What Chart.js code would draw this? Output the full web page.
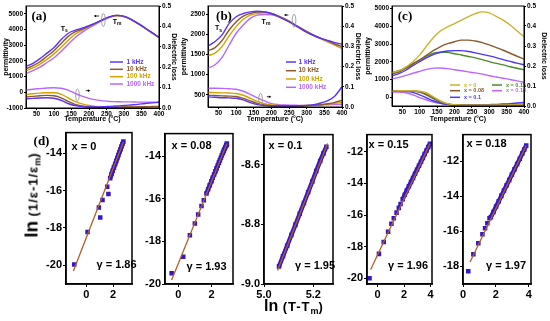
<!DOCTYPE html>
<html>
<head>
<meta charset="utf-8">
<script src="https://cdn.jsdelivr.net/npm/chart.js@4.4.1/dist/chart.umd.min.js"></script>
<style>
  body { margin: 0; background: #fff; }
  #fig { position: relative; width: 550px; height: 321px; overflow: hidden;
         font-family: 'Liberation Sans', Arial, sans-serif; font-weight: bold; color: #000; }
  canvas { position: absolute; }
  .lbl { position: absolute; white-space: nowrap; line-height: 1; transform: translateY(-50%); }
  .tag { font-family: 'Liberation Serif', 'Times New Roman', serif; font-size: 13px; transform: translate(-50%, -50%); }
  .note { font-size: 11px; }
  .ln { font-size: 19px; }
  .par { font-size: 13px; letter-spacing: 1px; }
  .par sub { font-size: 9px; vertical-align: -3px; letter-spacing: 0; }
  #ylab { left: 32px; top: 195px; transform: translate(-50%, -50%) rotate(-90deg); }
  #xlab { left: 294px; top: 307px; transform: translate(-50%, -50%); }
  #xlab .ln { font-size: 16px; }
</style>
</head>
<body>
<div id="fig">
  <canvas id="chartA"></canvas>
  <canvas id="chartB"></canvas>
  <canvas id="chartC"></canvas>
  <canvas id="chartD1"></canvas>
  <canvas id="chartD2"></canvas>
  <canvas id="chartD3"></canvas>
  <canvas id="chartD4"></canvas>
  <canvas id="chartD5"></canvas>

  <div class="lbl tag" style="left:39px;top:14.5px">(a)</div>
  <div class="lbl tag" style="left:224px;top:14.5px">(b)</div>
  <div class="lbl tag" style="left:405px;top:14.5px">(c)</div>
  <div class="lbl tag" style="left:41.5px;top:139.5px">(d)</div>

  <div class="lbl note" style="left:71.5px;top:145.5px">x = 0</div>
  <div class="lbl note" style="left:171.5px;top:144.5px">x = 0.08</div>
  <div class="lbl note" style="left:268.5px;top:144.5px">x = 0.1</div>
  <div class="lbl note" style="left:368.5px;top:143.5px">x = 0.15</div>
  <div class="lbl note" style="left:466.5px;top:142.5px">x = 0.18</div>

  <div class="lbl note" style="left:96.5px;top:264px">γ = 1.86</div>
  <div class="lbl note" style="left:186.5px;top:265.5px">γ = 1.93</div>
  <div class="lbl note" style="left:295px;top:265px">γ = 1.95</div>
  <div class="lbl note" style="left:388px;top:265px">γ = 1.96</div>
  <div class="lbl note" style="left:486px;top:264.5px">γ = 1.97</div>

  <div class="lbl" id="ylab"><span class="ln">ln</span> <span class="par">(1/ε-1/ε<sub>m</sub>)</span></div>
  <div class="lbl" id="xlab"><span class="ln">ln</span> <span class="par">(T-T<sub>m</sub>)</span></div>
</div>

<script>
// ---- data ----
const temps = [20, 40, 60, 80, 100, 120, 140, 160, 180, 200, 220, 240, 260, 280, 300, 320, 340, 360, 380, 400];
const freqLabels = ['1 kHz', '10 kHz', '100 kHz', '1000 kHz'];
const compLabels = ['x = 0', 'x = 0.08', 'x = 0.1', 'x = 0.15', 'x = 0.18'];

const tempTicks = [50, 100, 150, 200, 250, 300, 350, 400];
const lossTicks = [0, 0.1, 0.2, 0.3, 0.4, 0.5];
const permTicksA = [-1000, 0, 1000, 2000, 3000, 4000, 5000];
const permTicksB = [500, 1000, 1500, 2000, 2500];
const permTicksC = [0, 1000, 2000, 3000, 4000, 5000];

// (a) x = 0, four frequencies
const permA1k   = [1650, 1850, 2150, 2500, 2850, 3350, 3750, 3950, 4080, 4250, 4430, 4640, 4820, 4900, 4840, 4650, 4390, 4100, 3800, 3500];
const permA10k  = [1500, 1700, 1950, 2300, 2650, 3100, 3550, 3850, 4020, 4220, 4420, 4630, 4810, 4900, 4840, 4650, 4390, 4100, 3800, 3500];
const permA100k = [1380, 1550, 1800, 2100, 2450, 2850, 3300, 3700, 3950, 4180, 4400, 4620, 4800, 4890, 4830, 4640, 4380, 4090, 3790, 3490];
const permA1M   = [1200, 1380, 1600, 1900, 2200, 2600, 3050, 3480, 3820, 4100, 4350, 4600, 4790, 4880, 4820, 4630, 4370, 4080, 3780, 3480];
const lossA1k   = [0.045, 0.047, 0.049, 0.050, 0.048, 0.038, 0.022, 0.012, 0.007, 0.005, 0.005, 0.006, 0.008, 0.010, 0.012, 0.015, 0.018, 0.022, 0.025, 0.028];
const lossA10k  = [0.054, 0.057, 0.060, 0.062, 0.060, 0.050, 0.033, 0.018, 0.010, 0.006, 0.004, 0.004, 0.004, 0.004, 0.005, 0.005, 0.006, 0.006, 0.007, 0.008];
const lossA100k = [0.066, 0.070, 0.073, 0.075, 0.075, 0.068, 0.050, 0.032, 0.020, 0.012, 0.008, 0.006, 0.005, 0.005, 0.005, 0.005, 0.005, 0.005, 0.006, 0.006];
const lossA1M   = [0.088, 0.092, 0.095, 0.098, 0.099, 0.097, 0.088, 0.072, 0.058, 0.047, 0.040, 0.035, 0.032, 0.031, 0.030, 0.030, 0.029, 0.029, 0.028, 0.028];

// (b) x = 0.08, four frequencies
const permB1k   = [1710, 1820, 1985, 2270, 2435, 2515, 2555, 2570, 2555, 2515, 2435, 2350, 2255, 2150, 2050, 1970, 1900, 1845, 1795, 1755];
const permB10k  = [1590, 1670, 1845, 2105, 2310, 2450, 2515, 2550, 2550, 2515, 2450, 2370, 2270, 2165, 2065, 1975, 1900, 1835, 1760, 1700];
const permB100k = [1470, 1535, 1700, 1960, 2190, 2370, 2475, 2515, 2530, 2510, 2450, 2370, 2270, 2165, 2065, 1975, 1895, 1815, 1735, 1655];
const permB1M   = [1160, 1245, 1430, 1735, 2025, 2230, 2395, 2475, 2490, 2485, 2435, 2360, 2270, 2170, 2065, 1975, 1890, 1810, 1730, 1650];
const lossB1k   = [0.050, 0.048, 0.046, 0.045, 0.043, 0.035, 0.022, 0.012, 0.007, 0.005, 0.005, 0.005, 0.005, 0.006, 0.008, 0.012, 0.020, 0.032, 0.055, 0.100];
const lossB10k  = [0.058, 0.057, 0.055, 0.054, 0.052, 0.043, 0.030, 0.018, 0.010, 0.006, 0.005, 0.005, 0.005, 0.005, 0.006, 0.008, 0.011, 0.016, 0.023, 0.033];
const lossB100k = [0.072, 0.071, 0.070, 0.069, 0.067, 0.058, 0.043, 0.028, 0.017, 0.010, 0.008, 0.007, 0.007, 0.007, 0.008, 0.009, 0.011, 0.014, 0.018, 0.022];
const lossB1M   = [0.093, 0.093, 0.092, 0.090, 0.088, 0.078, 0.063, 0.045, 0.030, 0.017, 0.012, 0.010, 0.009, 0.008, 0.008, 0.009, 0.010, 0.011, 0.012, 0.013];

// (c) 1 kHz, five compositions
const permC0  = [1400, 1480, 1700, 2000, 2390, 2900, 3380, 3750, 3970, 4160, 4350, 4550, 4720, 4820, 4760, 4560, 4350, 4080, 3750, 3410];
const permC08 = [1320, 1420, 1620, 1870, 2110, 2380, 2640, 2860, 3020, 3130, 3220, 3220, 3170, 3080, 2950, 2800, 2650, 2480, 2310, 2145];
const permC10 = [1210, 1330, 1520, 1780, 2010, 2230, 2420, 2540, 2610, 2630, 2630, 2580, 2500, 2420, 2330, 2230, 2120, 2020, 1920, 1830];
const permC15 = [1400, 1490, 1680, 1900, 2110, 2320, 2480, 2540, 2530, 2450, 2380, 2300, 2220, 2120, 2010, 1910, 1820, 1720, 1630, 1550];
const permC18 = [1030, 1120, 1230, 1350, 1460, 1570, 1640, 1650, 1610, 1550, 1490, 1430, 1370, 1300, 1210, 1140, 1070, 1000, 920, 840];
const lossC0  = [0.075, 0.076, 0.076, 0.076, 0.074, 0.065, 0.045, 0.025, 0.012, 0.006, 0.004, 0.004, 0.004, 0.004, 0.004, 0.004, 0.004, 0.005, 0.005, 0.005];
const lossC08 = [0.074, 0.075, 0.075, 0.074, 0.070, 0.058, 0.040, 0.022, 0.010, 0.005, 0.004, 0.004, 0.004, 0.004, 0.004, 0.005, 0.005, 0.005, 0.006, 0.006];
const lossC10 = [0.073, 0.074, 0.073, 0.068, 0.056, 0.040, 0.025, 0.014, 0.008, 0.005, 0.004, 0.004, 0.005, 0.006, 0.007, 0.008, 0.010, 0.012, 0.015, 0.018];
const lossC15 = [0.075, 0.076, 0.076, 0.075, 0.070, 0.055, 0.035, 0.018, 0.009, 0.005, 0.004, 0.004, 0.004, 0.004, 0.004, 0.004, 0.004, 0.004, 0.004, 0.004];
const lossC18 = [0.070, 0.070, 0.066, 0.056, 0.042, 0.030, 0.020, 0.013, 0.009, 0.007, 0.006, 0.006, 0.006, 0.006, 0.007, 0.007, 0.008, 0.008, 0.009, 0.010];

// (d) ln(1/e - 1/em) against ln(T - Tm)
const d1SparseT = [-0.89, 0.10, 1.04, 0.94, 1.21, 1.65, 1.56];
const d1SparseE = [-19.96, -18.22, -17.44, -16.91, -16.50, -16.18, -15.80];
const d1DenseT = [1.78, 1.88, 1.97, 2.06, 2.15, 2.23, 2.31, 2.39, 2.47, 2.55, 2.62, 2.69, 2.76];
const d1DenseE = [-15.34, -15.12, -14.94, -14.76, -14.58, -14.42, -14.26, -14.10, -13.94, -13.79, -13.64, -13.51, -13.38];
const d1FitT = [-0.95, 2.76];
const d1FitE = [-20.30, -13.40];

const d2SparseT = [-0.40, 0.30, 0.70, 1.00, 1.20, 1.40, 1.54];
const d2SparseE = [-19.50, -18.72, -17.71, -17.16, -16.74, -16.34, -16.07];
const d2DenseT = [1.70, 1.80, 1.90, 2.00, 2.08, 2.16, 2.24, 2.31, 2.38, 2.45, 2.51, 2.57, 2.63, 2.69, 2.74, 2.79, 2.84, 2.89, 2.93];
const d2DenseE = [-15.76, -15.56, -15.37, -15.18, -15.02, -14.87, -14.72, -14.58, -14.45, -14.31, -14.20, -14.08, -13.97, -13.86, -13.76, -13.67, -13.58, -13.49, -13.42];
const d2FitT = [-0.40, 2.93];
const d2FitE = [-19.81, -13.42];

const d3SparseT = [];
const d3SparseE = [];
const d3DenseT = [5.061, 5.077, 5.094, 5.111, 5.128, 5.145, 5.162, 5.179, 5.196, 5.212, 5.228, 5.241, 5.253];
const d3DenseE = [-8.941, -8.907, -8.872, -8.836, -8.801, -8.765, -8.729, -8.693, -8.657, -8.622, -8.588, -8.563, -8.541];
const d3FitT = [5.055, 5.258];
const d3FitE = [-8.955, -8.530];

const d4SparseT = [-0.61, 0.10, 0.46, 0.79, 1.04, 1.22, 1.43, 1.60, 1.73];
const d4SparseE = [-19.99, -18.45, -17.70, -17.05, -16.55, -16.20, -15.85, -15.55, -15.30];
const d4DenseT = [1.89, 2.05, 2.20, 2.36, 2.52, 2.67, 2.82, 2.97, 3.12, 3.27, 3.41, 3.55, 3.69, 3.82, 3.95];
const d4DenseE = [-15.00, -14.72, -14.46, -14.19, -13.92, -13.66, -13.40, -13.15, -12.90, -12.64, -12.40, -12.16, -11.93, -11.71, -11.50];
const d4FitT = [-0.53, 3.95];
const d4FitE = [-19.45, -11.50];

const d5SparseT = [0.32, 0.63, 0.93, 1.18, 1.34, 1.48, 1.61];
const d5SparseE = [-18.28, -17.30, -16.68, -16.17, -15.83, -15.54, -15.26];
const d5DenseT = [1.69, 1.85, 2.01, 2.17, 2.33, 2.49, 2.65, 2.81, 2.97, 3.13, 3.29, 3.45, 3.60, 3.72, 3.84];
const d5DenseE = [-15.20, -14.90, -14.59, -14.29, -13.98, -13.68, -13.37, -13.07, -12.76, -12.46, -12.16, -11.86, -11.57, -11.34, -11.11];
const d5FitT = [0.43, 3.84];
const d5FitE = [-17.75, -11.11];

// ---- styling ----
const freqColors = ['#5a32ff', '#8c5a2c', '#d4a200', '#b866ff'];
const compColors = ['#c8b42a', '#8c5a2c', '#4a36ff', '#4d8a2c', '#b866ff'];
const dotColor = '#3418c4';
const fitColor = '#b0602a';
const sans = "'Liberation Sans', Arial, sans-serif";

Chart.defaults.font.family = sans;
Chart.defaults.font.weight = 'bold';
Chart.defaults.font.size = 7;
Chart.defaults.color = '#000';

// plot-area rectangles in page pixels, plus room for axes
const boxes = {
    a:  { l: 26,  t: 6,   r: 159, b: 108, leftW: 26, rightW: 21, padTop: 6, bottomH: 15 },
    b:  { l: 208, t: 6,   r: 342, b: 107, leftW: 30, rightW: 22, padTop: 6, bottomH: 16 },
    c:  { l: 392, t: 6,   r: 524, b: 106, leftW: 30, rightW: 26, padTop: 6, bottomH: 17 },
    d1: { l: 66,  t: 132, r: 132, b: 284, leftW: 26, rightW: 5,  padTop: 7, bottomH: 18 },
    d2: { l: 165, t: 133, r: 233, b: 284, leftW: 26, rightW: 5,  padTop: 7, bottomH: 18 },
    d3: { l: 264, t: 134, r: 333, b: 284, leftW: 31, rightW: 5,  padTop: 7, bottomH: 18 },
    d4: { l: 367, t: 134, r: 432, b: 284, leftW: 26, rightW: 5,  padTop: 7, bottomH: 18 },
    d5: { l: 463, t: 134, r: 531, b: 284, leftW: 26, rightW: 6,  padTop: 7, bottomH: 18 }
};

// ---- small plugins ----
const framePlugin = {
    id: 'frame',
    afterDraw(chart, args, opts) {
        const { ctx, chartArea: a } = chart;
        ctx.save();
        ctx.strokeStyle = '#000';
        ctx.lineWidth = opts.width || 1;
        ctx.strokeRect(a.left, a.top, a.right - a.left, a.bottom - a.top);
        ctx.restore();
    }
};

// legend drawn inside the plot, text coloured like its line
const keyPlugin = {
    id: 'keyBox',
    afterDatasetsDraw(chart, args, opts) {
        if (!opts.rows) return;
        const { ctx, chartArea: a } = chart;
        ctx.save();
        ctx.font = 'bold ' + opts.size + 'px ' + sans;
        ctx.textBaseline = 'middle';
        ctx.lineWidth = 1.5;
        opts.rows.forEach(row => {
            const ds = chart.data.datasets[row.index];
            const x = a.left + row.dx, y = a.top + row.dy;
            ctx.strokeStyle = ds.borderColor;
            ctx.beginPath();
            ctx.moveTo(x, y);
            ctx.lineTo(x + opts.lineLen, y);
            ctx.stroke();
            ctx.fillStyle = ds.borderColor;
            ctx.fillText(ds.label, x + opts.lineLen + opts.gap, y);
        });
        ctx.restore();
    }
};

// T_s / T_m labels, little arrows and ellipses, placed in data coordinates
const marksPlugin = {
    id: 'marks',
    afterDatasetsDraw(chart, args, opts) {
        if (!opts.items) return;
        const { ctx } = chart;
        const xs = chart.scales.x;
        ctx.save();
        opts.items.forEach(m => {
            const ys = chart.scales[m.axis];
            const px = xs.getPixelForValue(m.x), py = ys.getPixelForValue(m.y);
            if (m.kind === 'text') {
                ctx.fillStyle = '#000';
                ctx.textBaseline = 'middle';
                ctx.font = 'bold 7px ' + sans;
                ctx.fillText(m.main, px, py);
                const w = ctx.measureText(m.main).width;
                ctx.font = 'bold 5px ' + sans;
                ctx.fillText(m.sub, px + w, py + 2);
            } else if (m.kind === 'arrow') {
                const ex = px + m.dir * m.len;
                ctx.strokeStyle = '#000';
                ctx.fillStyle = '#000';
                ctx.lineWidth = 0.8;
                ctx.beginPath();
                ctx.moveTo(px, py);
                ctx.lineTo(ex, py);
                ctx.stroke();
                ctx.beginPath();
                ctx.moveTo(ex + m.dir * 1.5, py);
                ctx.lineTo(ex - m.dir * 1, py - 1.3);
                ctx.lineTo(ex - m.dir * 1, py + 1.3);
                ctx.closePath();
                ctx.fill();
            } else if (m.kind === 'ellipse') {
                ctx.strokeStyle = '#8a8a8a';
                ctx.lineWidth = 0.8;
                ctx.beginPath();
                ctx.ellipse(px, py, m.rx, m.ry, 0, 0, Math.PI * 2);
                ctx.stroke();
            }
        });
        ctx.restore();
    }
};

// ---- helpers ----
function placeCanvas(id, box) {
    const c = document.getElementById(id);
    c.width = box.leftW + (box.r - box.l) + box.rightW;
    c.height = box.padTop + (box.b - box.t) + box.bottomH;
    c.style.left = (box.l - box.leftW) + 'px';
    c.style.top = (box.t - box.padTop) + 'px';
    return c;
}

function useTicks(values) {
    return function(scale) {
        scale.ticks = values.map(v => ({ value: v }));
    };
}

function fixSize(size) {
    return function(scale) {
        if (scale.isHorizontal()) scale.height = size;
        else scale.width = size;
    };
}

function series(label, color, values, axis) {
    return {
        label: label,
        data: temps.map((t, i) => ({ x: t, y: values[i] })),
        borderColor: color,
        backgroundColor: color,
        yAxisID: axis,
        fill: false
    };
}

function pairs(xs, ys) {
    return xs.map((v, i) => ({ x: v, y: ys[i] }));
}

const plainFmt = v => String(v);
const oneDecimal = v => v.toFixed(1);
const tickGrid = { drawOnChartArea: false, tickLength: 2, color: '#000' };

function tempChart(id, box, datasets, perm, key, marks) {
    const canvas = placeCanvas(id, box);
    return new Chart(canvas, {
        type: 'line',
        data: { datasets: datasets },
        options: {
            responsive: false,
            animation: false,
            devicePixelRatio: 1,
            layout: { padding: { top: box.padTop, left: 0, right: 0, bottom: 0 } },
            elements: {
                point: { radius: 0 },
                line: { borderWidth: 1.4, cubicInterpolationMode: 'monotone' }
            },
            scales: {
                x: {
                    type: 'linear', min: 20, max: 400,
                    afterBuildTicks: useTicks(tempTicks),
                    afterFit: fixSize(box.bottomH),
                    ticks: { font: { size: 6.5 }, padding: 0, maxRotation: 0, autoSkip: false, callback: plainFmt },
                    grid: tickGrid,
                    border: { color: '#000' },
                    title: { display: true, text: 'Temperature (°C)', font: { size: 7 }, padding: 0 }
                },
                y: {
                    type: 'linear', position: 'left', min: perm.min, max: perm.max,
                    afterBuildTicks: useTicks(perm.ticks),
                    afterFit: fixSize(box.leftW),
                    ticks: { font: { size: 6.5 }, padding: 1, autoSkip: false, callback: plainFmt },
                    grid: tickGrid,
                    border: { color: '#000' },
                    title: { display: true, text: 'permittivity', font: { size: 7 }, padding: { top: 2, bottom: 0 } }
                },
                y1: {
                    type: 'linear', position: 'right', min: 0, max: 0.5,
                    afterBuildTicks: useTicks(lossTicks),
                    afterFit: fixSize(box.rightW),
                    ticks: { font: { size: 6.5 }, padding: 1, autoSkip: false, callback: oneDecimal },
                    grid: tickGrid,
                    border: { color: '#000' },
                    title: { display: true, text: 'Dielectric loss', font: { size: 7 }, padding: { top: 2, bottom: 0 } }
                }
            },
            plugins: {
                legend: { display: false },
                tooltip: { enabled: false },
                frame: { width: 1 },
                keyBox: key,
                marks: { items: marks }
            }
        },
        plugins: [framePlugin, keyPlugin, marksPlugin]
    });
}

function lnChart(id, box, p) {
    const canvas = placeCanvas(id, box);
    const tickFont = { size: 11 };
    return new Chart(canvas, {
        type: 'scatter',
        data: {
            datasets: [
                { data: pairs(p.fitT, p.fitE), showLine: true, borderColor: fitColor, borderWidth: 1.3, pointRadius: 0 },
                { data: pairs(p.denseT, p.denseE), showLine: true, borderColor: dotColor, borderWidth: 4.5,
                  backgroundColor: dotColor, pointStyle: 'rect', pointRadius: 3.2, pointBorderWidth: 0 },
                { data: pairs(p.sparseT, p.sparseE), showLine: false, backgroundColor: dotColor,
                  pointStyle: 'rect', pointRadius: 3.2, pointBorderWidth: 0 }
            ]
        },
        options: {
            responsive: false,
            animation: false,
            devicePixelRatio: 1,
            layout: { padding: { top: box.padTop, left: 0, right: box.rightW, bottom: 0 } },
            scales: {
                x: {
                    type: 'linear', min: p.xMin, max: p.xMax,
                    afterBuildTicks: useTicks(p.xTicks),
                    afterFit: fixSize(box.bottomH),
                    ticks: { font: tickFont, padding: 1, maxRotation: 0, autoSkip: false, callback: p.fmt },
                    grid: { drawOnChartArea: false, tickLength: 3, color: '#000' },
                    border: { color: '#000', width: 1.5 }
                },
                y: {
                    type: 'linear', min: p.yMin, max: p.yMax,
                    afterBuildTicks: useTicks(p.yTicks),
                    afterFit: fixSize(box.leftW),
                    ticks: { font: tickFont, padding: 1, autoSkip: false, callback: p.fmt },
                    grid: { drawOnChartArea: false, tickLength: 3, color: '#000' },
                    border: { color: '#000', width: 1.5 }
                }
            },
            plugins: {
                legend: { display: false },
                tooltip: { enabled: false },
                frame: { width: 1.5 }
            }
        },
        plugins: [framePlugin]
    });
}

// ---- top row ----
tempChart('chartA', boxes.a, [
    series(freqLabels[0], freqColors[0], permA1k, 'y'),
    series(freqLabels[1], freqColors[1], permA10k, 'y'),
    series(freqLabels[2], freqColors[2], permA100k, 'y'),
    series(freqLabels[3], freqColors[3], permA1M, 'y'),
    series(freqLabels[0], freqColors[0], lossA1k, 'y1'),
    series(freqLabels[1], freqColors[1], lossA10k, 'y1'),
    series(freqLabels[2], freqColors[2], lossA100k, 'y1'),
    series(freqLabels[3], freqColors[3], lossA1M, 'y1')
], { min: -1000, max: 5500, ticks: permTicksA },
{ size: 6.5, lineLen: 13, gap: 3.5, rows: [
    { index: 0, dx: 84, dy: 56 }, { index: 1, dx: 84, dy: 63.3 },
    { index: 2, dx: 84, dy: 70.7 }, { index: 3, dx: 84, dy: 78 }] },
[
    { kind: 'text', main: 'T', sub: 's', x: 119, y: 4030, axis: 'y' },
    { kind: 'text', main: 'T', sub: 'm', x: 268, y: 4500, axis: 'y' },
    { kind: 'arrow', x: 229, y: 4860, axis: 'y', dir: -1, len: 4 },
    { kind: 'ellipse', x: 241, y: 4610, axis: 'y', rx: 1.8, ry: 6.5 },
    { kind: 'ellipse', x: 167, y: 0.064, axis: 'y1', rx: 1.8, ry: 6 },
    { kind: 'arrow', x: 191, y: 0.085, axis: 'y1', dir: 1, len: 3 }
]);

tempChart('chartB', boxes.b, [
    series(freqLabels[0], freqColors[0], permB1k, 'y'),
    series(freqLabels[1], freqColors[1], permB10k, 'y'),
    series(freqLabels[2], freqColors[2], permB100k, 'y'),
    series(freqLabels[3], freqColors[3], permB1M, 'y'),
    series(freqLabels[0], freqColors[0], lossB1k, 'y1'),
    series(freqLabels[1], freqColors[1], lossB10k, 'y1'),
    series(freqLabels[2], freqColors[2], lossB100k, 'y1'),
    series(freqLabels[3], freqColors[3], lossB1M, 'y1')
], { min: 200, max: 2700, ticks: permTicksB },
{ size: 6.5, lineLen: 10, gap: 2.5, rows: [
    { index: 0, dx: 78, dy: 56 }, { index: 1, dx: 78, dy: 64.7 },
    { index: 2, dx: 78, dy: 73 }, { index: 3, dx: 78, dy: 81.3 }] },
[
    { kind: 'text', main: 'T', sub: 's', x: 40, y: 2148, axis: 'y' },
    { kind: 'text', main: 'T', sub: 'm', x: 172, y: 2311, axis: 'y' },
    { kind: 'arrow', x: 248, y: 2477, axis: 'y', dir: -1, len: 3 },
    { kind: 'ellipse', x: 264, y: 2336, axis: 'y', rx: 1.8, ry: 6.5 },
    { kind: 'ellipse', x: 169, y: 0.038, axis: 'y1', rx: 1.8, ry: 6 },
    { kind: 'arrow', x: 187, y: 0.051, axis: 'y1', dir: 1, len: 3 }
]);

tempChart('chartC', boxes.c, [
    series(compLabels[0], compColors[0], permC0, 'y'),
    series(compLabels[1], compColors[1], permC08, 'y'),
    series(compLabels[2], compColors[2], permC10, 'y'),
    series(compLabels[3], compColors[3], permC15, 'y'),
    series(compLabels[4], compColors[4], permC18, 'y'),
    series(compLabels[0], compColors[0], lossC0, 'y1'),
    series(compLabels[1], compColors[1], lossC08, 'y1'),
    series(compLabels[2], compColors[2], lossC10, 'y1'),
    series(compLabels[3], compColors[3], lossC15, 'y1'),
    series(compLabels[4], compColors[4], lossC18, 'y1')
], { min: -500, max: 5150, ticks: permTicksC },
{ size: 5.5, lineLen: 10, gap: 4, rows: [
    { index: 0, dx: 58, dy: 79 }, { index: 1, dx: 58, dy: 84.7 }, { index: 2, dx: 58, dy: 91.3 },
    { index: 3, dx: 100, dy: 79 }, { index: 4, dx: 100, dy: 84.7 }] },
[]);

// ---- bottom row ----
lnChart('chartD1', boxes.d1, {
    sparseT: d1SparseT, sparseE: d1SparseE, denseT: d1DenseT, denseE: d1DenseE, fitT: d1FitT, fitE: d1FitE,
    xMin: -1.5, xMax: 3.4, yMin: -21, yMax: -12.9, xTicks: [0, 2], yTicks: [-20, -18, -16, -14], fmt: plainFmt
});
lnChart('chartD2', boxes.d2, {
    sparseT: d2SparseT, sparseE: d2SparseE, denseT: d2DenseT, denseE: d2DenseE, fitT: d2FitT, fitE: d2FitE,
    xMin: -0.8, xMax: 3.3, yMin: -20, yMax: -12.95, xTicks: [0, 2], yTicks: [-20, -18, -16, -14], fmt: plainFmt
});
lnChart('chartD3', boxes.d3, {
    sparseT: d3SparseT, sparseE: d3SparseE, denseT: d3DenseT, denseE: d3DenseE, fitT: d3FitT, fitE: d3FitE,
    xMin: 5.0, xMax: 5.28, yMin: -9.0, yMax: -8.5, xTicks: [5.0, 5.2], yTicks: [-9.0, -8.8, -8.6], fmt: oneDecimal
});
lnChart('chartD4', boxes.d4, {
    sparseT: d4SparseT, sparseE: d4SparseE, denseT: d4DenseT, denseE: d4DenseE, fitT: d4FitT, fitE: d4FitE,
    xMin: -0.8, xMax: 4.1, yMin: -20.35, yMax: -10.93, xTicks: [0, 2, 4], yTicks: [-20, -18, -16, -14, -12], fmt: plainFmt
});
lnChart('chartD5', boxes.d5, {
    sparseT: d5SparseT, sparseE: d5SparseE, denseT: d5DenseT, denseE: d5DenseE, fitT: d5FitT, fitE: d5FitE,
    xMin: 0, xMax: 4.13, yMin: -19.0, yMax: -10.49, xTicks: [0, 2, 4], yTicks: [-18, -16, -14, -12], fmt: plainFmt
});
</script>
</body>
</html>
